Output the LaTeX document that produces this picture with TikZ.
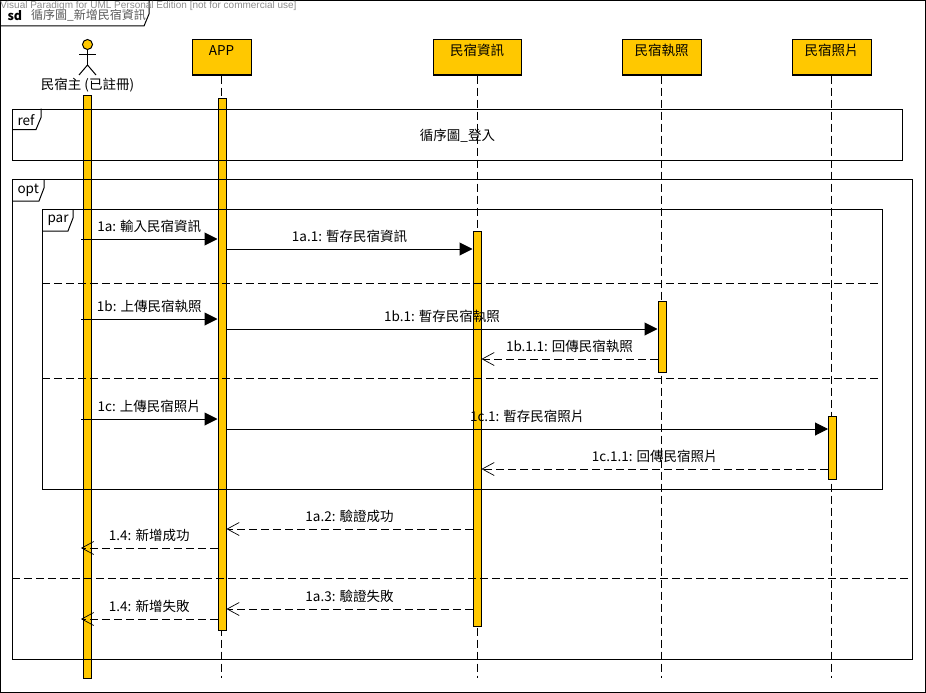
\documentclass[tikz,border=0pt]{standalone}
\usepackage{fontspec}
\setmainfont{Noto Sans CJK TC}
\newfontfamily\markfont{Liberation Sans}
\usetikzlibrary{positioning}
\usetikzlibrary{arrows.meta}
\definecolor{barfill}{HTML}{FFC800}
\begin{document}
\begin{tikzpicture}[x=1pt, y=-1pt, line width=1pt, font=\fontsize{13.5}{15}\selectfont]
    \tikzstyle{head}=[draw=black,rectangle,fill=barfill,minimum height=35pt,anchor=north,inner sep=0pt,text height=10pt,text depth=13pt,align=center]
    \tikzstyle{bar}=[draw=black,rectangle,fill=barfill,minimum width=8pt,anchor=north,inner sep=0pt]
    \tikzstyle{lifeline}=[draw=black,dash pattern=on 8pt off 4pt]
    \tikzstyle{frag}=[draw=black,rectangle,fill=none,inner sep=0pt]
    \tikzstyle{tabtext}=[anchor=west,inner sep=0pt]
    \tikzstyle{sync}=[draw=black,-{Triangle[length=13pt,width=13pt]}]
    \tikzstyle{reply}=[draw=black,dash pattern=on 8pt off 4pt,-{Straight Barb[length=12pt,width=13pt,line width=0.7pt]}]
    \tikzstyle{msglabel}=[above=5pt,inner sep=0pt,text height=10pt,text depth=2pt]

    \useasboundingbox (0,0) rectangle (926,693);

    % lifeline heads
    \node[head, minimum width=59pt] (app) at (221.5,39.5) {APP};
    \node[head, minimum width=88pt, right=181pt of app.north east, anchor=north west] (info) {民宿資訊};
    \node[head, minimum width=79pt] (license) at (661.5,39.5) {民宿執照};
    \node[head, minimum width=79pt] (photo) at (831.5,39.5) {民宿照片};

    % actor
    \node[circle, draw=black, fill=barfill, minimum size=10pt, inner sep=0pt] (host) at (87.5,44.5) {};
    \coordinate (hip) at (87.5,65);
    \coordinate (armL) at (79,55);
    \coordinate (armR) at (96,55);
    \coordinate (legL) at (79,75);
    \coordinate (legR) at (96,75);
    \draw (host) -- (hip);
    \draw (armL) -- (armR);
    \draw (legL) -- (hip) -- (legR);
    \node[inner sep=0pt] (hostname) at (87.5,85) {民宿主 (已註冊)};

    % lifelines
    \coordinate (append) at (221.5,678);
    \coordinate (infoend) at (477,678);
    \coordinate (licenseend) at (661.5,678);
    \coordinate (photoend) at (831.5,678);
    \path[lifeline] (app) -- (append);
    \path[lifeline] (info) -- (infoend);
    \path[lifeline] (license) -- (licenseend);
    \path[lifeline] (photo) -- (photoend);

    % activation bars
    \node[bar, minimum height=583pt] (hostbar) at (87.5,94.5) {};
    \node[bar, minimum height=532pt] (appbar) at (222,97.5) {};
    \node[bar, minimum height=395pt] (infobar) at (477,230.5) {};
    \node[bar, minimum height=71pt] (licensebar) at (662,300.5) {};
    \node[bar, minimum height=63pt] (photobar) at (832.5,415.5) {};

    % frames
    \node[frag, minimum width=925pt, minimum height=692pt] (sd) at (463,346.5) {};
    \node[frag, minimum width=890pt, minimum height=51pt, text height=14pt, text depth=2pt] (ref) at (457.5,134.5) {循序圖\_登入};
    \node[frag, minimum width=900pt, minimum height=480pt] (opt) at (462.5,419.5) {};
    \node[frag, minimum width=840pt, minimum height=280pt] (par) at (462.5,349.5) {};

    \draw (sd.north west) ++(149,0) -- ++(0,14) -- ++(-5,12) -- ++(-144,0);
    \draw (ref.north west) ++(29,0) -- ++(0,9) -- ++(-5,12) -- ++(-24,0);
    \draw (opt.north west) ++(32,0) -- ++(0,9) -- ++(-5,13) -- ++(-27,0);
    \draw (par.north west) ++(31,0) -- ++(0,9) -- ++(-5,13) -- ++(-26,0);

    \node[tabtext, font=\fontsize{12.5}{14}\bfseries\selectfont] (sdtag) at (7,15.5) {sd};
    \node[tabtext, right=8pt of sdtag, text=black!65, font=\fontsize{12}{14}\selectfont] (sdname) {循序圖\_新增民宿資訊};
    \node[tabtext] (reftag) at (17,120) {ref};
    \node[tabtext] (opttag) at (17,190.5) {opt};
    \node[tabtext] (partag) at (47,220) {par};

    % dividers
    \coordinate (div1) at (par.west |- 0,283);
    \coordinate (div2) at (par.west |- 0,378);
    \coordinate (div3) at (opt.west |- 0,578);
    \path[lifeline] (div1) -- (par.east |- div1);
    \path[lifeline] (div2) -- (par.east |- div2);
    \path[lifeline] (div3) -- (opt.east |- div3);

    % messages
    \coordinate (m1a) at (81,239);
    \coordinate (m1a1) at (appbar.east |- 0,249);
    \coordinate (m1b) at (81,319);
    \coordinate (m1b1) at (appbar.east |- 0,329);
    \coordinate (m1b11) at (licensebar.west |- 0,359);
    \coordinate (m1c) at (81,419);
    \coordinate (m1c1) at (appbar.east |- 0,429);
    \coordinate (m1c11) at (photobar.west |- 0,469);
    \coordinate (m1a2) at (infobar.west |- 0,529);
    \coordinate (m14a) at (appbar.west |- 0,548);
    \coordinate (m1a3) at (infobar.west |- 0,609);
    \coordinate (m14b) at (appbar.west |- 0,619);
    \coordinate (back1) at (81,548);
    \coordinate (back2) at (81,619);

    \path (m1a) edge[sync] node[msglabel] {1a: 輸入民宿資訊} (appbar.west |- m1a);
    \path (m1a1) edge[sync] node[msglabel] {1a.1: 暫存民宿資訊} (infobar.west |- m1a1);
    \path (m1b) edge[sync] node[msglabel] {1b: 上傳民宿執照} (appbar.west |- m1b);
    \path (m1b1) edge[sync] node[msglabel] {1b.1: 暫存民宿執照} (licensebar.west |- m1b1);
    \path (m1b11) edge[reply] node[msglabel] {1b.1.1: 回傳民宿執照} (infobar.east |- m1b11);
    \path (m1c) edge[sync] node[msglabel] {1c: 上傳民宿照片} (appbar.west |- m1c);
    \path (m1c1) edge[sync] node[msglabel] {1c.1: 暫存民宿照片} (photobar.west |- m1c1);
    \path (m1c11) edge[reply] node[msglabel] {1c.1.1: 回傳民宿照片} (infobar.east |- m1c11);
    \path (m1a2) edge[reply] node[msglabel] {1a.2: 驗證成功} (appbar.east |- m1a2);
    \path (m14a) edge[reply] node[msglabel] {1.4: 新增成功} (back1);
    \path (m1a3) edge[reply] node[msglabel] {1a.3: 驗證失敗} (appbar.east |- m1a3);
    \path (m14b) edge[reply] node[msglabel] {1.4: 新增失敗} (back2);

    \node[anchor=north west, inner sep=0pt, text=black!45, font=\markfont\fontsize{10}{12}\selectfont] (mark) at (0,1) {Visual Paradigm for UML Personal Edition [not for commercial use]};
\end{tikzpicture}
\end{document}
